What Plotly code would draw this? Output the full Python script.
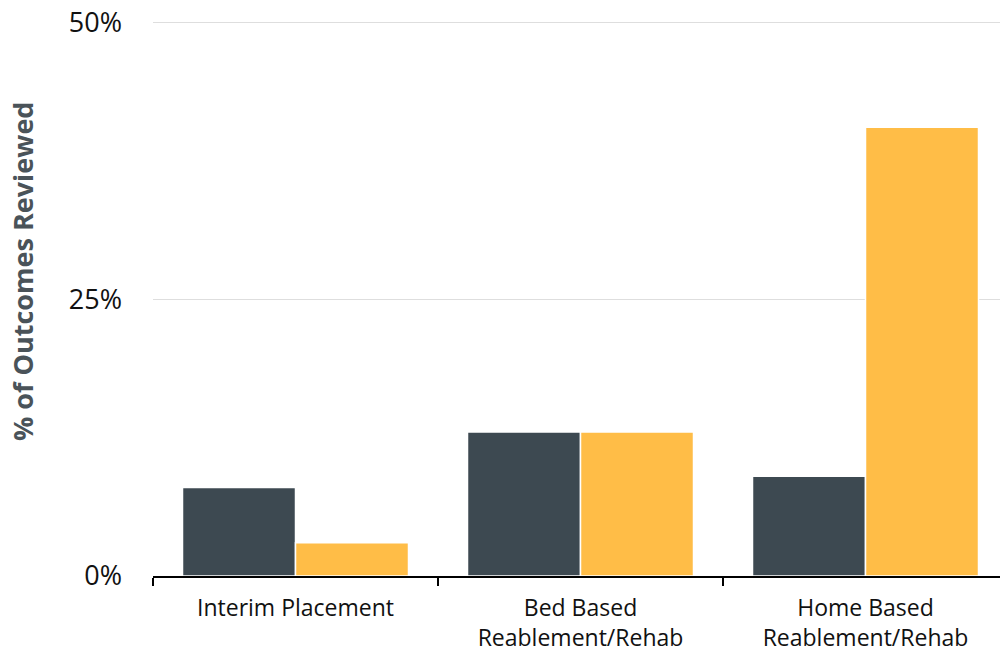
import plotly.graph_objects as go

categories = ["Interim Placement", "Bed Based<br>Reablement/Rehab", "Home Based<br>Reablement/Rehab"]
series_a = [8.0, 13.0, 9.0]
series_b = [3.0, 13.0, 40.5]
y_ticks = [0, 25, 50]
y_tick_text = ["0%", "25%", "50%"]

FONT = "Open Sans"
W, H = 1001, 658
ML, MR, MT, MB = 153, 1, 21, 82
plot_w = W - ML - MR
plot_h = H - MT - MB

fig = go.Figure()
fig.add_trace(go.Bar(x=categories, y=series_a, name="Series A",
                     marker=dict(color="#3d4951", line=dict(color="white", width=1.5))))
fig.add_trace(go.Bar(x=categories, y=series_b, name="Series B",
                     marker=dict(color="#ffbd47", line=dict(color="white", width=1.5))))

fig.update_layout(
    width=W, height=H,
    margin=dict(l=ML, r=MR, t=MT, b=MB),
    paper_bgcolor="white", plot_bgcolor="white",
    barmode="group", bargap=0.207, bargroupgap=0,
    showlegend=False,
    font=dict(family=FONT, color="#111111"),
)
# category band ~285px wide; the last band runs past the right edge
fig.update_xaxes(
    range=[-0.5, -0.5 + plot_w / 285.0],
    showline=True, linecolor="black", linewidth=2,
    ticks="outside", tickson="boundaries", ticklen=8, tickwidth=2, tickcolor="black",
    ticklabelstandoff=10,
    tickfont=dict(size=23, family=FONT, color="#111111"),
    showgrid=False,
)
fig.update_yaxes(
    range=[0, 50.1], tickvals=y_ticks, ticktext=y_tick_text,
    showgrid=True, gridcolor="#dedede", gridwidth=1,
    zeroline=False, showline=False, ticks="",
    ticklabelstandoff=30,
    tickfont=dict(size=27, family=FONT, color="#111111"),
)
fig.add_annotation(
    text="<b>% of Outcomes Reviewed</b>", textangle=-90,
    xref="paper", yref="paper",
    x=(22 - ML) / plot_w, y=(H - MB - 272) / plot_h,
    xanchor="center", yanchor="middle", showarrow=False,
    font=dict(size=27, family=FONT, color="#4a5359"),
)

fig.write_html("out.html")
